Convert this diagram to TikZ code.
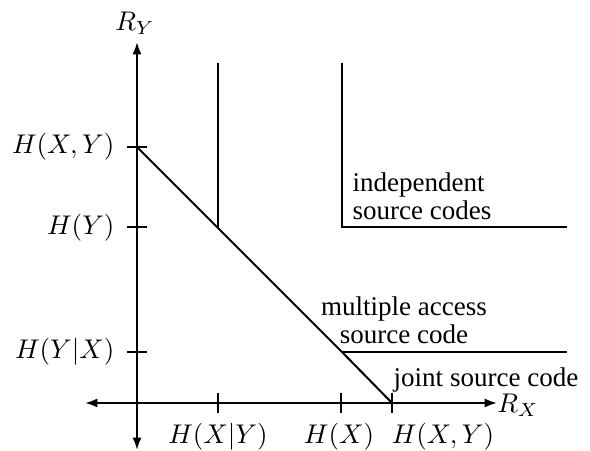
\documentclass[tikz,border=0pt]{standalone}
\usepackage{fontspec}
\setmainfont{Liberation Serif}
\usetikzlibrary{arrows.meta}
\begin{document}
\begin{tikzpicture}[x=0.37pt,y=-0.37pt,
  axis/.style={line width=0.8pt,-{Latex[length=4.6pt,width=3.4pt]}},
  curve/.style={line width=0.75pt},
  tick/.style={line width=0.75pt},
  lbl/.style={inner sep=0pt,font=\fontsize{10}{11.5}\selectfont},
  txt/.style={inner sep=0pt,align=center,font=\fontsize{10}{10.5}\selectfont}]
\useasboundingbox (0,0) rectangle (590,451);
% axes
\coordinate (O) at (137,403);
\coordinate (ytop) at (137,42);
\coordinate (ybot) at (137,450);
\coordinate (xleft) at (85,403);
\coordinate (xright) at (497,403);
\draw[axis] (O) -- (ytop);
\draw[axis] (O) -- (ybot);
\draw[axis] (O) -- (xleft);
\draw[axis] (O) -- (xright);
\node[lbl] (RY) at (135,23) {$R_Y$};
\node[lbl] (RX) at (518,405) {$R_X$};
% y ticks
\coordinate (yHXY) at (137,147);
\coordinate (yHY) at (137,227);
\coordinate (yHYX) at (137,352);
\foreach \c in {yHXY,yHY,yHYX}
  \draw[tick] ([xshift=-10*0.37pt]\c) -- ([xshift=10*0.37pt]\c);
\node[lbl,anchor=east] (lHXY) at (115,147) {$H(X,Y)$};
\node[lbl,anchor=east] (lHY) at (115,228) {$H(Y)$};
\node[lbl,anchor=east] (lHYX) at (115,352) {$H(Y|X)$};
% x ticks
\coordinate (xHXgY) at (218,403);
\coordinate (xHX) at (341,403);
\coordinate (xHXY) at (392,403);
\foreach \c in {xHXgY,xHX,xHXY}
  \draw[tick] ([yshift=10*0.37pt]\c) -- ([yshift=-10*0.37pt]\c);
\node[lbl] (lHXgY) at (218,437) {$H(X|Y)$};
\node[lbl] (lHX) at (339,437) {$H(X)$};
\node[lbl] (lHXY2) at (443,437) {$H(X,Y)$};
% region boundaries
\coordinate (A) at (218,228);
\coordinate (Atop) at (218,63);
\coordinate (B) at (342,352);
\coordinate (Bend) at (567,352);
\coordinate (C) at (342,227);
\coordinate (Ctop) at (342,63);
\coordinate (Cend) at (567,227);
\draw[curve] (yHXY) -- (A) -- (B) -- (xHXY);
\draw[curve] (A) -- (Atop);
\draw[curve] (B) -- (Bend);
\draw[curve] (Ctop) -- (C) -- (Cend);
% labels
\node[txt,anchor=west,align=left] (ind) at (352,196) {independent\\source codes};
\node[txt] (mac) at (404,320) {multiple access\\source code};
\node[txt] (jsc) at (486,380) {joint source code};
\end{tikzpicture}
\end{document}
